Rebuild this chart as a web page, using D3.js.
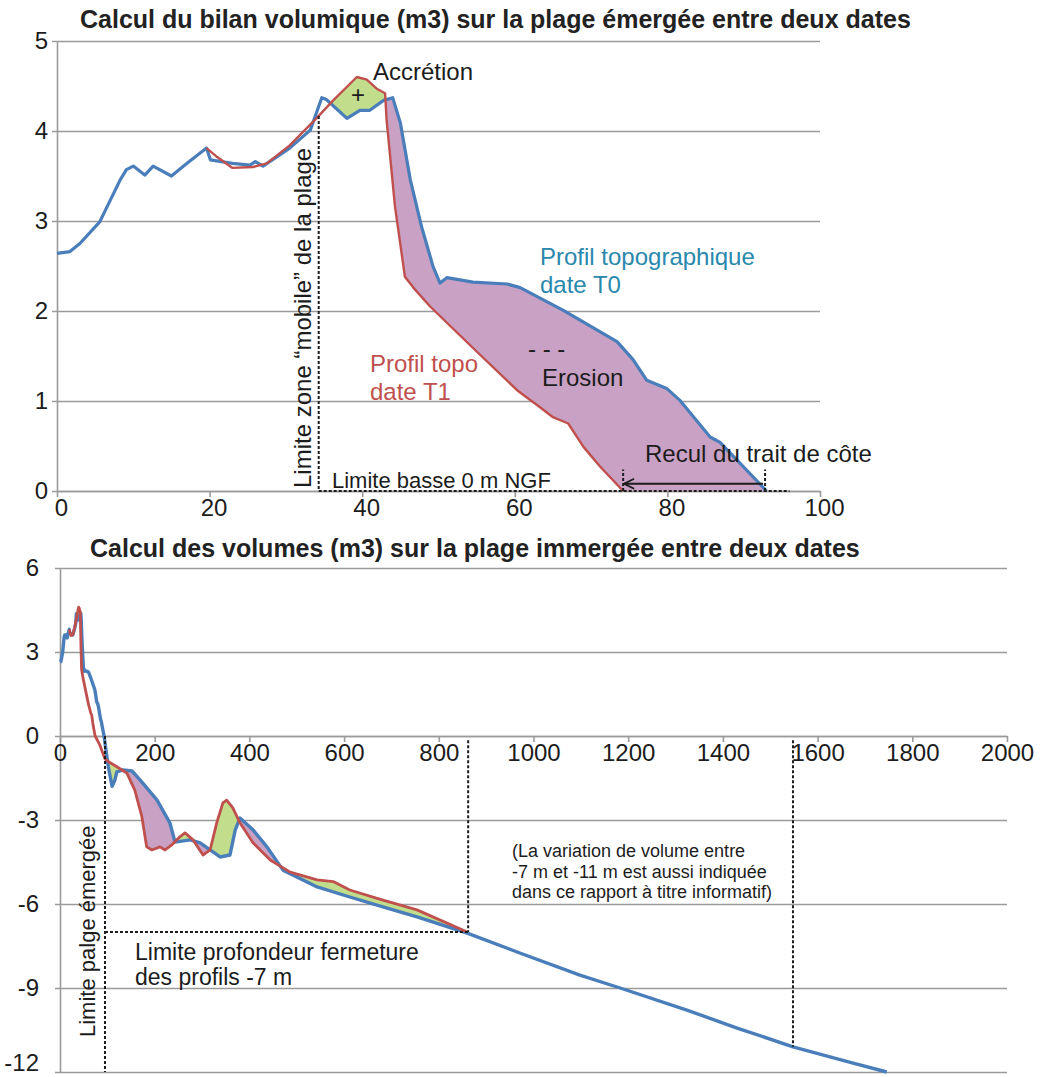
<!DOCTYPE html>
<html>
<head>
<meta charset="utf-8">
<script src="https://cdnjs.cloudflare.com/ajax/libs/d3/7.8.5/d3.min.js"></script>
<style>
  body { margin: 0; background: #fff; }
  svg { font-family: "Liberation Sans", Arial, sans-serif; }
</style>
</head>
<body>
<svg width="1041" height="1077"></svg>
<script>
// ---- top chart : emerged beach (distance m, altitude m NGF)
var topXTicks = [0, 20, 40, 60, 80, 100];
var topYTicks = [0, 1, 2, 3, 4, 5];
// profile date T0 (blue)
var t0X = [0, 1.7, 3, 5.6, 8.3, 9.1, 10, 11.5, 12.6, 15, 17, 19.6, 20.1, 23, 25.3, 26, 27, 30.5, 33.2, 34.7,
  35.3, 38, 39.7, 41, 42.8, 44, 45, 46.3, 47.8, 49.3, 50.2, 51.1, 54.5, 59, 60.7, 66.3, 73.4, 75.5, 77.3, 79.9,
  81.6, 85.6, 86.9, 93];
var t0Y = [2.64, 2.66, 2.75, 2.99, 3.46, 3.57, 3.61, 3.51, 3.61, 3.5, 3.64, 3.81, 3.68, 3.64, 3.62, 3.66, 3.61, 3.81, 4.01, 4.37,
  4.35, 4.14, 4.23, 4.23, 4.34, 4.37, 4.09, 3.46, 2.93, 2.49, 2.31, 2.37, 2.32, 2.30, 2.26, 2.01, 1.66, 1.46, 1.23, 1.14,
  1.01, 0.6, 0.54, 0.0];
// profile date T1 (red)
var t1X = [19.6, 21, 23, 25.7, 27.5, 30.5, 34, 36.2, 39.3, 40.6, 41.9, 43, 43.2, 44.3, 45.6, 46.7, 48.9, 55, 60.3, 63.3,
  65, 67, 69, 71.2, 74.2];
var t1Y = [3.81, 3.71, 3.59, 3.60, 3.64, 3.84, 4.14, 4.34, 4.6, 4.57, 4.47, 4.42, 4.12, 3.16, 2.38, 2.26, 2.05, 1.55, 1.12, 0.93,
  0.82, 0.75, 0.49, 0.27, 0.0];
var topFillRange = [35.8, 93];
var topMobileX = 34.3;      // limite zone mobile
var topLowEndX = 96;        // end of the 0 m line
var shoreT1 = 74.2, shoreT0 = 92.8;

// ---- bottom chart : immersed beach
var botXTicks = [0, 200, 400, 600, 800, 1000, 1200, 1400, 1600, 1800, 2000];
var botYTicks = [-12, -9, -6, -3, 0, 3, 6];
var t0OffX = [102, 110, 116, 120, 133, 152, 169, 205, 232, 243, 275, 296, 317, 338, 359, 370, 380, 408, 437, 471,
  543, 612, 682, 754, 860, 971, 1098, 1183, 1324, 1430, 1548, 1675, 1746];
var t0OffY = [-1.1, -1.8, -1.57, -1.28, -1.21, -1.25, -1.57, -2.29, -3.1, -3.79, -3.71, -3.82, -4.07, -4.32, -4.25, -3.36, -2.93, -3.36, -3.96, -4.79,
  -5.39, -5.75, -6.1, -6.46, -7.04, -7.75, -8.54, -9.0, -9.79, -10.43, -11.1, -11.68, -12.0];
var t1OffX = [84, 95, 101, 120, 141, 158, 173, 183, 194, 211, 222, 236, 253, 264, 281, 302, 317, 331, 344, 352,
  365, 380, 408, 444, 486, 543, 577, 612, 682, 754, 860];
var t1OffY = [-0.32, -0.82, -0.9, -1.1, -1.32, -1.93, -2.89, -3.96, -4.07, -3.96, -4.07, -3.89, -3.6, -3.46, -3.71, -4.25, -4.07, -3.1, -2.39, -2.29,
  -2.57, -3.1, -3.82, -4.43, -4.86, -5.14, -5.2, -5.5, -5.86, -6.21, -7.0];
var botFillRange = [95, 860];
var botEmergedX = 95, botClosureX = 862, botClosureY = -7;
var botInfoX = 1548, botInfoY = -11.1;

var blue = '#4a7ebb', red = '#c0504d', erosion = '#c9a1c4', accretion = '#c2de8d';
var gridCol = '#9a9a9a', ink = '#1c1c1c';

var svg = d3.select('svg');
var defs = svg.append('defs');

// open arrow head, points along the line direction
defs.append('marker').attr('id', 'arrow')
  .attr('viewBox', '0 -6 12 12').attr('refX', 11).attr('refY', 0)
  .attr('markerWidth', 12).attr('markerHeight', 12).attr('markerUnits', 'userSpaceOnUse')
  .attr('orient', 'auto')
  .append('path').attr('d', 'M1,-5 L11,0 L1,5').attr('fill', 'none').attr('stroke', ink).attr('stroke-width', 1.8);

function interp(xs, ys) {
  return function(v) {
    if (v <= xs[0]) return ys[0];
    if (v >= xs[xs.length - 1]) return ys[ys.length - 1];
    var i = d3.bisectRight(xs, v);
    var t = (v - xs[i - 1]) / (xs[i] - xs[i - 1]);
    return ys[i - 1] + t * (ys[i] - ys[i - 1]);
  };
}

function zip(xs, ys) {
  return xs.map(function(d, i) { return [d, ys[i]]; });
}

function plain(d) { return String(d); }

function drawAxes(x, y, xTicks, yTicks, xAt, padY, dxLab) {
  var w = x.range()[1] - x.range()[0];
  var gy = svg.append('g').attr('transform', 'translate(' + x.range()[0] + ',0)')
    .call(d3.axisLeft(y).tickValues(yTicks).tickFormat(plain).tickSizeInner(-w).tickSizeOuter(0).tickPadding(padY));
  gy.selectAll('.tick line').attr('x1', -5).attr('stroke', gridCol).attr('stroke-width', 1.6);
  gy.select('.domain').attr('stroke', gridCol).attr('stroke-width', 1.6);
  gy.selectAll('text').attr('font-size', 24).attr('fill', ink).attr('font-family', 'Liberation Sans, Arial, sans-serif');
  // lowest label sits on the picture edge: keep it inside
  gy.selectAll('.tick text').filter(function(d) { return y(d) > 1060; }).attr('dy', '-0.05em');

  var gx = svg.append('g').attr('transform', 'translate(0,' + y(xAt) + ')')
    .call(d3.axisBottom(x).tickValues(xTicks).tickFormat(plain).tickSizeInner(6).tickSizeOuter(0).tickPadding(2));
  gx.selectAll('.tick line').attr('stroke', gridCol).attr('stroke-width', 1.6);
  gx.select('.domain').attr('stroke', gridCol).attr('stroke-width', 1.6);
  gx.selectAll('text').attr('font-size', 24).attr('fill', ink).attr('dx', dxLab)
    .attr('font-family', 'Liberation Sans, Arial, sans-serif');
}

function drawFills(id, x, y, xsA, ysA, xsB, ysB, range) {
  var fa = interp(xsA, ysA), fb = interp(xsB, ysB);
  var grid = xsA.concat(xsB, range).filter(function(v) { return v >= range[0] && v <= range[1]; });
  grid = Array.from(new Set(grid)).sort(d3.ascending);
  var dom = y.domain();
  defs.append('clipPath').attr('id', id + '-above').append('path')
    .attr('d', d3.area().x(function(d) { return x(d); }).y0(function(d) { return y(fb(d)); }).y1(y(dom[1]))(grid));
  defs.append('clipPath').attr('id', id + '-below').append('path')
    .attr('d', d3.area().x(function(d) { return x(d); }).y0(function(d) { return y(fb(d)); }).y1(y(dom[0]))(grid));
  var band = d3.area().x(function(d) { return x(d); })
    .y0(function(d) { return y(fa(d)); }).y1(function(d) { return y(fb(d)); });
  svg.append('path').attr('d', band(grid)).attr('fill', erosion).attr('clip-path', 'url(#' + id + '-above)');
  svg.append('path').attr('d', band(grid)).attr('fill', accretion).attr('clip-path', 'url(#' + id + '-below)');
}

function drawLine(x, y, pts, col, w) {
  var line = d3.line().x(function(d) { return x(d[0]); }).y(function(d) { return y(d[1]); });
  svg.append('path').attr('d', line(pts)).attr('fill', 'none')
    .attr('stroke', col).attr('stroke-width', w).attr('stroke-linejoin', 'round');
}

function dotted(x1, y1, x2, y2) {
  svg.append('line').attr('x1', x1).attr('y1', y1).attr('x2', x2).attr('y2', y2)
    .attr('stroke', ink).attr('stroke-width', 2).attr('stroke-dasharray', '3,2');
}

function label(txt, px, py, size, col, opts) {
  opts = opts || {};
  var t = svg.append('text').attr('x', px).attr('y', py).attr('font-size', size)
    .attr('fill', col || ink).text(txt);
  if (opts.bold) t.attr('font-weight', 'bold');
  if (opts.anchor) t.attr('text-anchor', opts.anchor);
  if (opts.rotate) t.attr('x', 0).attr('y', 0).attr('transform', 'translate(' + px + ',' + py + ') rotate(-90)');
  return t;
}

// ================= TOP CHART
var xTop = d3.scaleLinear().domain([0, 100]).range([57, 820]);
var yTop = d3.scaleLinear().domain([0, 5]).range([491, 41]);

label('Calcul du bilan volumique (m3) sur la plage émergée entre deux dates', 80, 28, 25, '#222', { bold: true });
drawAxes(xTop, yTop, topXTicks, topYTicks, 0, 9, 4);
drawFills('top', xTop, yTop, t0X, t0Y, t1X, t1Y, topFillRange);
drawLine(xTop, yTop, zip(t0X, t0Y), blue, 3.2);
drawLine(xTop, yTop, zip(t1X, t1Y), red, 2.4);

// limits
var mobTop = interp(t1X, t1Y)(topMobileX);
dotted(xTop(topMobileX), yTop(mobTop), xTop(topMobileX), yTop(0));
dotted(xTop(topMobileX), yTop(0), xTop(topLowEndX), yTop(0));
dotted(xTop(shoreT1), yTop(0), xTop(shoreT1), yTop(0.24));
dotted(xTop(shoreT0), yTop(0), xTop(shoreT0), yTop(0.24));
svg.append('line')
  .attr('x1', xTop(shoreT0) - 2).attr('y1', yTop(0.08)).attr('x2', xTop(shoreT1) + 1).attr('y2', yTop(0.08))
  .attr('stroke', ink).attr('stroke-width', 2).attr('marker-end', 'url(#arrow)');

label('Accrétion', 373, 80, 24);
label('+', 358, 103, 24, ink, { anchor: 'middle' });
label('Profil topographique', 540, 265, 24, '#2a88ad');
label('date T0', 540, 293, 24, '#2a88ad');
label('- - -', 528, 357, 24);
label('Erosion', 542, 386, 24);
label('Profil topo', 370, 372, 24, red);
label('date T1', 370, 400, 24, red);
label('Recul du trait de côte', 645, 462, 24);
label('Limite basse 0 m NGF', 332, 488, 22);
label('Limite zone \u201cmobile\u201d de la plage', 311, 488, 24, ink, { rotate: true });

// ================= BOTTOM CHART
var xBot = d3.scaleLinear().domain([0, 2000]).range([60, 1007]);
var yBot = d3.scaleLinear().domain([-12, 6]).range([1072, 568]);

label('Calcul des volumes (m3) sur la plage immergée entre deux dates', 90, 557, 25, '#222', { bold: true });
drawAxes(xBot, yBot, botXTicks, botYTicks, 0, 21, 0);

var b0X = t0X.concat(t0OffX), b0Y = t0Y.concat(t0OffY);
var b1X = t1X.concat(t1OffX), b1Y = t1Y.concat(t1OffY);
drawFills('bot', xBot, yBot, b0X, b0Y, b1X, b1Y, botFillRange);
drawLine(xBot, yBot, zip(b0X, b0Y), blue, 3.4);
drawLine(xBot, yBot, zip(b1X, b1Y), red, 2.8);

dotted(xBot(botEmergedX), yBot(0), xBot(botEmergedX), yBot(-12));
dotted(xBot(botEmergedX), yBot(botClosureY), xBot(botClosureX), yBot(botClosureY));
dotted(xBot(botClosureX), yBot(-0.15), xBot(botClosureX), yBot(botClosureY));
dotted(xBot(botInfoX), yBot(-0.15), xBot(botInfoX), yBot(botInfoY));

label('Limite palge émergée', 95, 1037, 22, ink, { rotate: true });
label('Limite profondeur fermeture', 135, 960, 23);
label('des profils -7 m', 135, 985, 23);
label('(La variation de volume entre', 512, 857, 18);
label('-7 m et -11 m est aussi indiquée', 512, 878, 18);
label('dans ce rapport à titre informatif)', 512, 898, 18);
</script>
</body>
</html>
